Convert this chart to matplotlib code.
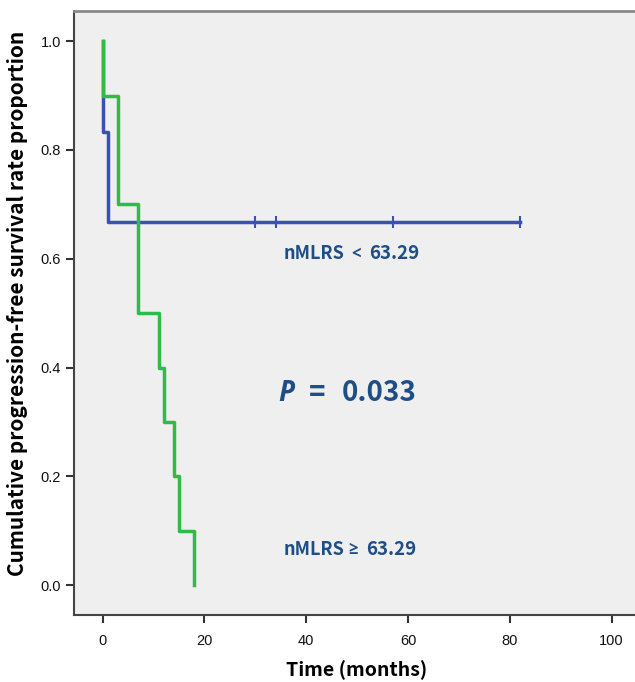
import matplotlib
matplotlib.use("Agg")
import matplotlib.pyplot as plt

# Data (Kaplan-Meier steps)
blue_times = [0, 0, 1, 82]
blue_surv = [1.0, 0.833, 0.667, 0.667]
blue_censor_times = [30, 34, 57, 82]
blue_censor_surv = [0.667, 0.667, 0.667, 0.667]

green_times = [0, 0, 3, 7, 11, 12, 14, 15, 18, 18]
green_surv = [1.0, 0.9, 0.7, 0.5, 0.4, 0.3, 0.2, 0.1, 0.0, 0.0]

x_ticks = [0, 20, 40, 60, 80, 100]
y_ticks = [0.0, 0.2, 0.4, 0.6, 0.8, 1.0]

group_name = "nMLRS"
cutoff = "63.29"
p_value = "0.033"

plt.rcParams['font.family'] = ['Liberation Sans', 'DejaVu Sans']
BOLD = ['Noto Sans CJK KR', 'DejaVu Sans']
SYM = ['Open Sans', 'DejaVu Sans']

fig = plt.figure(figsize=(6.35, 6.82), dpi=100)
ax = fig.add_axes([74/635, 1-615/682, 1-74/635, (615-10.7)/682])
ax.set_facecolor('#efefef')

blue = '#3a50b4'
green = '#2fbb48'
ax.step(blue_times, blue_surv, where='post', color=blue, lw=2.5, zorder=2)
ax.plot(blue_censor_times, blue_censor_surv, linestyle='none', marker='|',
        color=blue, markersize=8, mew=1.5, zorder=2)
ax.step(green_times, green_surv, where='post', color=green, lw=2.5, zorder=3)

ax.set_xlim(-5.6, 104.6)
ax.set_ylim(-0.055, 1.056)
ax.set_xticks(x_ticks)
ax.set_yticks(y_ticks)
ax.set_yticklabels([f"{v:.1f}" for v in y_ticks])
ax.tick_params(axis='both', labelsize=10.5, length=6, width=1.5, color='#333333',
               labelcolor='#111111', direction='out')
ax.tick_params(axis='x', pad=8)

for s in ['left', 'bottom']:
    ax.spines[s].set_color('#444444')
    ax.spines[s].set_linewidth(1.5)
ax.spines['top'].set_color('#8a8a8a')
ax.spines['top'].set_linewidth(2)
ax.spines['right'].set_visible(False)

tc = '#1f4e86'
def px2x(px):
    return (px - 102.7) / 5.09

# upper group label
y1 = 0.61
ax.text(px2x(284), y1, group_name, color=tc, fontsize=13, fontweight='bold',
        family=BOLD, va='center', ha='left')
ax.text(px2x(351), y1, "<", color=tc, fontsize=12, fontweight='bold',
        family=SYM, va='center', ha='left')
ax.text(px2x(369), y1, cutoff, color=tc, fontsize=13.5, fontweight='bold',
        family=BOLD, va='center', ha='left')
# lower group label
y2 = 0.066
ax.text(px2x(284), y2, group_name, color=tc, fontsize=13, fontweight='bold',
        family=BOLD, va='center', ha='left')
ax.text(px2x(348), y2, "\u2265", color=tc, fontsize=12, fontweight='bold',
        family=SYM, va='center', ha='left')
ax.text(px2x(366), y2, cutoff, color=tc, fontsize=13.5, fontweight='bold',
        family=BOLD, va='center', ha='left')
# p-value
yp = 0.353
ax.text(px2x(278), yp, "P", color=tc, fontsize=20, fontweight='bold', style='italic',
        family=SYM, va='center', ha='left')
ax.text(px2x(309), yp, "=", color=tc, fontsize=20, fontweight='bold',
        family=BOLD, va='center', ha='left')
ax.text(px2x(342), yp, p_value, color=tc, fontsize=20, fontweight='bold',
        family=BOLD, va='center', ha='left')

fig.text(357/635, 1-670/682, "Time (months)", fontsize=14, fontweight='bold',
         family=BOLD, ha='center', va='center')
fig.text(18/635, 1-303/682, "Cumulative progression-free survival rate proportion",
         fontsize=15, fontweight='bold', family=BOLD, rotation=90,
         ha='center', va='center')

fig.savefig("out.png", dpi=100)
